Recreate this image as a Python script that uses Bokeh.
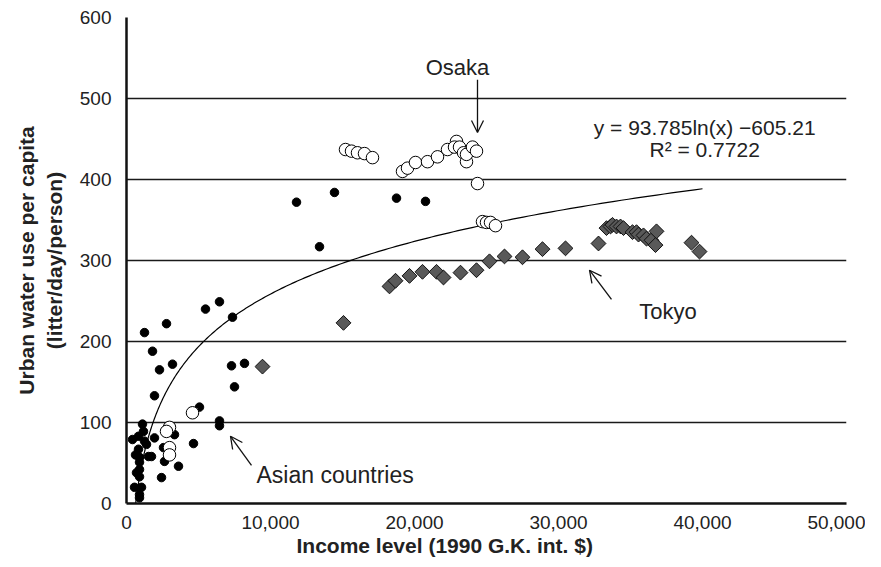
import math
from bokeh.plotting import figure
from bokeh.models import (Label, Arrow, OpenHead, FixedTicker, Range1d,
                          NumeralTickFormatter, Title)
from bokeh.embed import file_html
from bokeh.resources import INLINE

# ---- data ----
asia_x = [11806, 14444, 13403, 18750, 20764, 1250, 2778, 5486, 6458, 7361,
          1806, 2292, 3194, 7292, 8194, 7500, 1944, 5069, 6458, 6458,
          1111, 833, 1944, 3333, 4653, 1389, 833, 1528, 903, 1736,
          2569, 2639, 903, 903, 3611, 694, 903, 2431, 556, 1042,
          903, 903, 417, 1250, 1180, 625]
asia_y = [372, 384, 317, 377, 373, 211, 222, 240, 249, 230,
          188, 165, 172, 170, 173, 144, 133, 119, 102, 96,
          98, 83, 81, 85, 74, 73, 67, 58, 57, 58,
          69, 52, 51, 42, 46, 38, 33, 32, 20, 20,
          11, 7, 79, 77, 89, 60]

osaka_x = [15208, 15625, 16042, 16528, 17083, 19167, 19514, 20069, 20903, 21597,
           22292, 22917, 22778, 23125, 23403, 23611, 23611, 24028, 24305, 24375,
           24722, 25000, 25278, 25625,
           4583, 2986, 2778, 2986, 2986]
osaka_y = [437, 435, 433, 432, 427, 410, 414, 421, 422, 428,
           437, 447, 440, 440, 433, 422, 431, 440, 435, 395,
           348, 347, 347, 343,
           112, 94, 89, 69, 60]

tokyo_x = [9444, 15069, 18264, 18681, 19653, 20555, 21528, 22014, 23194, 24305,
           25208, 26250, 27500, 28889, 30486, 32778, 33333, 33611, 33750, 34028,
           34306, 34514, 35139, 35417, 35556, 35903, 36111, 36458, 36806, 36736,
           39236, 39792]
tokyo_y = [169, 223, 268, 275, 281, 286, 286, 279, 285, 288,
           299, 305, 304, 314, 315, 321, 340, 342, 344, 342,
           342, 340, 335, 335, 332, 331, 327, 325, 336, 319,
           322, 311]

fit_a = 93.785
fit_b = -605.21
fit_x_max = 40000

x_ticks = [0, 10000, 20000, 30000, 40000, 50000]
y_ticks = [0, 100, 200, 300, 400, 500, 600]

FONT = "Liberation Sans"

p = figure(width=865, height=559, output_backend="svg", toolbar_location=None,
           x_range=Range1d(0, 50000), y_range=Range1d(0, 600),
           min_border_left=126, min_border_right=19, min_border_top=17,
           min_border_bottom=56)
p.outline_line_color = None
p.background_fill_color = "white"
p.border_fill_color = "white"

p.xgrid.visible = False
p.ygrid.grid_line_color = "#1a1a1a"
p.ygrid.grid_line_width = 1.6
p.ygrid.ticker = FixedTicker(ticks=y_ticks)

for ax in (p.xaxis[0], p.yaxis[0]):
    ax.axis_line_color = "#111111"
    ax.axis_line_width = 2.5
    ax.major_tick_line_color = None
    ax.minor_tick_line_color = None
    ax.major_label_text_font = FONT
    ax.major_label_text_font_size = "19px"
    ax.major_label_text_color = "#222222"
    ax.axis_label_text_font = FONT
    ax.axis_label_text_font_style = "bold"
    ax.axis_label_text_font_size = "21px"
    ax.axis_label_text_color = "#222222"

p.xaxis.ticker = FixedTicker(ticks=x_ticks)
p.xaxis.formatter = NumeralTickFormatter(format="0,0")
p.yaxis.ticker = FixedTicker(ticks=y_ticks)
p.yaxis.axis_label = "Urban water use per capita\n(litter/day/person)"
p.yaxis.axis_label_standoff = 11
p.yaxis.major_label_standoff = 9
p.xaxis.major_label_standoff = 6

# x-axis title, placed slightly left of the plot centre as in the original
p.add_layout(Title(text="Income level (1990 G.K. int. $)", align="left", offset=170,
                   standoff=0, text_font=FONT, text_font_size="21px",
                   text_font_style="bold", text_color="#222222"), "below")

# fitted logarithmic trend (from the printed equation)
x0 = math.exp(-fit_b / fit_a)
fit_xs = [x0 * (fit_x_max / x0) ** (i / 300) for i in range(301)]
fit_ys = [fit_a * math.log(x) + fit_b for x in fit_xs]
p.line(fit_xs, fit_ys, line_color="black", line_width=1.2)

p.scatter(asia_x, asia_y, marker="circle", size=8.5, fill_color="black", line_color="black")
p.scatter(osaka_x, osaka_y, marker="circle", size=12.5, fill_color="white", line_color="black", line_width=1)
p.scatter(tokyo_x, tokyo_y, marker="square", angle=math.pi / 4, size=10.5,
          fill_color="#595959", line_color="#111111", line_width=1)

def lab(x, y, t, size="23px", align="center"):
    p.add_layout(Label(x=x, y=y, text=t, text_font=FONT, text_font_size=size,
                       text_align=align, text_baseline="middle", text_color="#222222"))

lab(22986, 538, "Osaka", size="22px")
lab(40150, 464, "y = 93.785ln(x) \u2212605.21", size="21px")
lab(40150, 437, "R\u00b2 = 0.7722", size="21px")
lab(35600, 237, "Tokyo", size="22px", align="left")
lab(9028, 35, "Asian countries", align="left")

def arrow(xa, ya, xb, yb):
    p.add_layout(Arrow(end=OpenHead(size=12, line_width=1.3, line_color="#111111"),
                       x_start=xa, y_start=ya, x_end=xb, y_end=yb,
                       line_width=1.3, line_color="#111111"))

arrow(24375, 523, 24375, 458)
arrow(33680, 252, 32153, 288)
arrow(8680, 47, 7222, 83)

open("out.html", "w").write(file_html(p, INLINE))
